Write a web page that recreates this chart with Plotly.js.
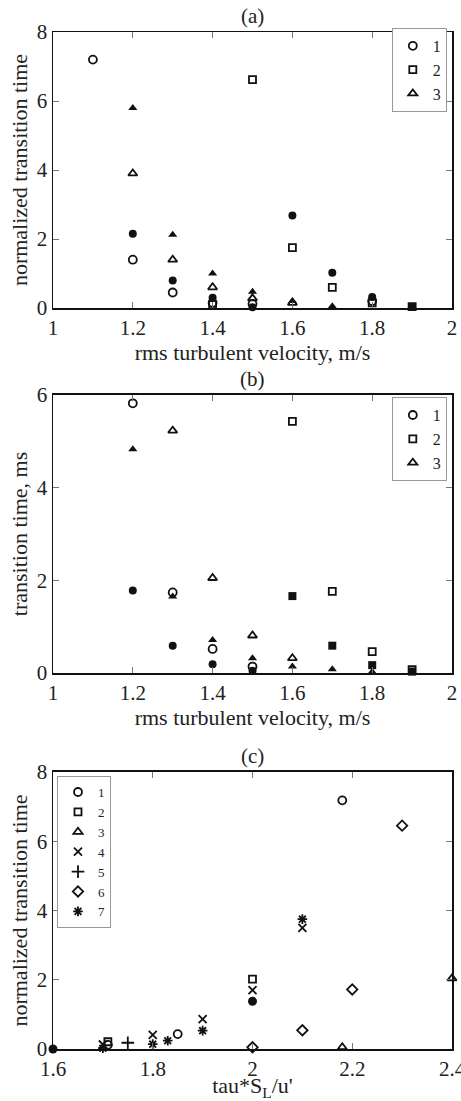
<!DOCTYPE html>
<html>
<head>
<meta charset="utf-8">
<script src="https://cdn.plot.ly/plotly-3.0.1.min.js"></script>
<style>html,body{margin:0;padding:0;background:#fff;}#chart{width:461px;height:1101px;}</style>
</head>
<body>
<div id="chart"></div>
<script>
// ---- Panel (a): normalized transition time vs rms turbulent velocity ----
const a1OpenX = [1.1, 1.2, 1.3, 1.4, 1.5, 1.8];
const a1OpenY = [7.2, 1.4, 0.45, 0.15, 0.12, 0.2];
const a1FillX = [1.2, 1.3, 1.4, 1.5, 1.6, 1.7, 1.8, 1.9];
const a1FillY = [2.15, 0.8, 0.3, 0.02, 2.68, 1.02, 0.32, 0.03];
const a2OpenX = [1.4, 1.5, 1.6, 1.7, 1.8, 1.9];
const a2OpenY = [0.1, 6.62, 1.75, 0.6, 0.15, 0.04];
const a2FillX = [1.9];
const a2FillY = [0.03];
const a3OpenX = [1.2, 1.3, 1.4, 1.5, 1.6];
const a3OpenY = [3.9, 1.4, 0.6, 0.28, 0.15];
const a3FillX = [1.2, 1.3, 1.4, 1.5, 1.6, 1.7];
const a3FillY = [5.8, 2.12, 1.0, 0.47, 0.2, 0.05];

// ---- Panel (b): transition time, ms ----
const b1OpenX = [1.2, 1.3, 1.4, 1.5];
const b1OpenY = [5.82, 1.74, 0.52, 0.14];
const b1FillX = [1.2, 1.3, 1.4, 1.5];
const b1FillY = [1.78, 0.59, 0.19, 0.05];
const b2OpenX = [1.6, 1.7, 1.8, 1.9];
const b2OpenY = [5.43, 1.76, 0.46, 0.07];
const b2FillX = [1.6, 1.7, 1.8, 1.9];
const b2FillY = [1.66, 0.59, 0.17, 0.03];
const b3OpenX = [1.3, 1.4, 1.5, 1.6];
const b3OpenY = [5.23, 2.05, 0.81, 0.32];
const b3FillX = [1.2, 1.3, 1.4, 1.5, 1.6, 1.7, 1.8];
const b3FillY = [4.83, 1.65, 0.71, 0.32, 0.14, 0.08, 0.03];

// ---- Panel (c): normalized transition time vs tau*S_L/u' ----
const c1X = [2.18, 1.85, 1.71];
const c1Y = [7.18, 0.43, 0.12];
const c1FillX = [1.6, 2.0];
const c1FillY = [0.0, 1.38];
const c2X = [2.0, 1.71];
const c2Y = [2.02, 0.21];
const c3X = [2.4, 2.18];
const c3Y = [2.04, 0.05];
const c4X = [2.1, 2.0, 1.9, 1.8, 1.7];
const c4Y = [3.5, 1.7, 0.86, 0.41, 0.13];
const c5X = [1.75];
const c5Y = [0.18];
const c6X = [2.3, 2.2, 2.1, 2.0];
const c6Y = [6.45, 1.72, 0.54, 0.05];
const c7X = [2.1, 1.9, 1.83, 1.8, 1.7];
const c7Y = [3.75, 0.53, 0.24, 0.14, 0.02];

const legendNames = ['1', '2', '3', '4', '5', '6', '7'];
const xTicksAB = [1, 1.2, 1.4, 1.6, 1.8, 2];
const xTicksC = [1.6, 1.8, 2, 2.2, 2.4];

const BLK = '#111';
function openTrace(x, y, sym, name, xa, ya, leg, show, size) {
  return {type: 'scatter', mode: 'markers', x: x, y: y, name: name,
    xaxis: xa, yaxis: ya, legend: leg, showlegend: show, cliponaxis: false,
    marker: {symbol: sym, size: size || 7, color: BLK, line: {color: BLK, width: 1.8}}};
}
function fillTrace(x, y, sym, xa, ya, size) {
  return {type: 'scatter', mode: 'markers', x: x, y: y, name: 'filled',
    xaxis: xa, yaxis: ya, showlegend: false, cliponaxis: false, hoverinfo: 'x+y',
    marker: {symbol: sym, size: size || 7, color: BLK, line: {color: BLK, width: 0}}};
}

const data = [
  openTrace(a1OpenX, a1OpenY, 'circle-open', legendNames[0], 'x', 'y', 'legend', true, 8),
  openTrace(a2OpenX, a2OpenY, 'square-open', legendNames[1], 'x', 'y', 'legend', true, 7),
  openTrace(a3OpenX, a3OpenY, 'triangle-up-open', legendNames[2], 'x', 'y', 'legend', true, 8),
  fillTrace(a1FillX, a1FillY, 'circle', 'x', 'y', 8),
  fillTrace(a2FillX, a2FillY, 'square', 'x', 'y', 8),
  fillTrace(a3FillX, a3FillY, 'triangle-up', 'x', 'y', 8),

  openTrace(b1OpenX, b1OpenY, 'circle-open', legendNames[0], 'x2', 'y2', 'legend2', true, 8),
  openTrace(b2OpenX, b2OpenY, 'square-open', legendNames[1], 'x2', 'y2', 'legend2', true, 7),
  openTrace(b3OpenX, b3OpenY, 'triangle-up-open', legendNames[2], 'x2', 'y2', 'legend2', true, 8),
  fillTrace(b1FillX, b1FillY, 'circle', 'x2', 'y2', 8),
  fillTrace(b2FillX, b2FillY, 'square', 'x2', 'y2', 8),
  fillTrace(b3FillX, b3FillY, 'triangle-up', 'x2', 'y2', 8),

  openTrace(c1X, c1Y, 'circle-open', legendNames[0], 'x3', 'y3', 'legend3', true, 8),
  openTrace(c2X, c2Y, 'square-open', legendNames[1], 'x3', 'y3', 'legend3', true, 7),
  openTrace(c3X, c3Y, 'triangle-up-open', legendNames[2], 'x3', 'y3', 'legend3', true, 8),
  openTrace(c4X, c4Y, 'x-thin-open', legendNames[3], 'x3', 'y3', 'legend3', true, 8),
  openTrace(c5X, c5Y, 'cross-thin-open', legendNames[4], 'x3', 'y3', 'legend3', true, 9),
  openTrace(c6X, c6Y, 'diamond-open', legendNames[5], 'x3', 'y3', 'legend3', true, 8),
  openTrace(c7X, c7Y, 'asterisk-open', legendNames[6], 'x3', 'y3', 'legend3', true, 8),
  fillTrace(c1FillX, c1FillY, 'circle', 'x3', 'y3', 9)
];

const FONT = 'Liberation Serif';
const TXT = '#222';
function xax(ticks, anchor, title, standoff) {
  return {range: [ticks[0], ticks[ticks.length - 1]], tickmode: 'array', tickvals: ticks,
    ticktext: ticks.map(String), anchor: anchor, ticklabeloverflow: 'allow',
    showline: true, linecolor: BLK, linewidth: 1.5, mirror: 'ticks',
    ticks: 'inside', ticklen: 6, tickcolor: '#777', tickwidth: 1,
    showgrid: false, zeroline: false,
    tickfont: {family: FONT, size: 21, color: TXT},
    title: {text: title, font: {family: FONT, size: 22, color: TXT}, standoff: standoff}};
}
function yax(range, anchor, domain, title) {
  return {range: range, dtick: 2, anchor: anchor, domain: domain,
    showline: true, linecolor: BLK, linewidth: 1.5, mirror: 'ticks',
    ticks: 'inside', ticklen: 6, tickcolor: '#777', tickwidth: 1,
    showgrid: false, zeroline: false,
    tickfont: {family: FONT, size: 21, color: TXT},
    title: {text: title, font: {family: FONT, size: 22, color: TXT}, standoff: 3}};
}
function leg(x, y, xanchor, fs) {
  return {x: x, y: y, xanchor: xanchor, yanchor: 'top', xref: 'paper', yref: 'paper',
    bgcolor: 'rgba(255,255,255,1)', bordercolor: '#999', borderwidth: 1,
    font: {family: FONT, size: fs, color: TXT}, itemwidth: 30, tracegroupgap: 0};
}

const layout = {
  width: 461, height: 1101,
  margin: {l: 53, r: 9, t: 32, b: 52},
  paper_bgcolor: '#fff', plot_bgcolor: '#fff',
  font: {family: FONT, color: TXT},
  xaxis: xax(xTicksAB, 'y', 'rms turbulent velocity, m/s', 0),
  yaxis: yax([0, 8], 'x', [0.7286, 1], 'normalized transition time'),
  xaxis2: xax(xTicksAB, 'y2', 'rms turbulent velocity, m/s', 0),
  yaxis2: yax([0, 6], 'x2', [0.3697, 0.6431], 'transition time, ms'),
  xaxis3: xax(xTicksC, 'y3', 'tau*S<sub>L</sub>/u\'', 4),
  yaxis3: yax([0, 8], 'x3', [0, 0.2724], 'normalized transition time'),
  legend: leg(0.987, 1.004, 'right', 16),
  legend2: leg(0.987, 0.641, 'right', 16),
  legend3: leg(0.01, 0.2684, 'left', 13),
  annotations: [
    {text: '(a)', xref: 'paper', yref: 'paper', x: 0.5, y: 1, yanchor: 'bottom', yshift: 2, showarrow: false, font: {family: FONT, size: 21, color: TXT}},
    {text: '(b)', xref: 'paper', yref: 'paper', x: 0.5, y: 0.6431, yanchor: 'bottom', yshift: 2, showarrow: false, font: {family: FONT, size: 21, color: TXT}},
    {text: '(c)', xref: 'paper', yref: 'paper', x: 0.5, y: 0.2724, yanchor: 'bottom', yshift: 2, showarrow: false, font: {family: FONT, size: 21, color: TXT}}
  ],
  showlegend: true
};

Plotly.newPlot('chart', data, layout, {displayModeBar: false, staticPlot: true});
</script>
</body>
</html>
